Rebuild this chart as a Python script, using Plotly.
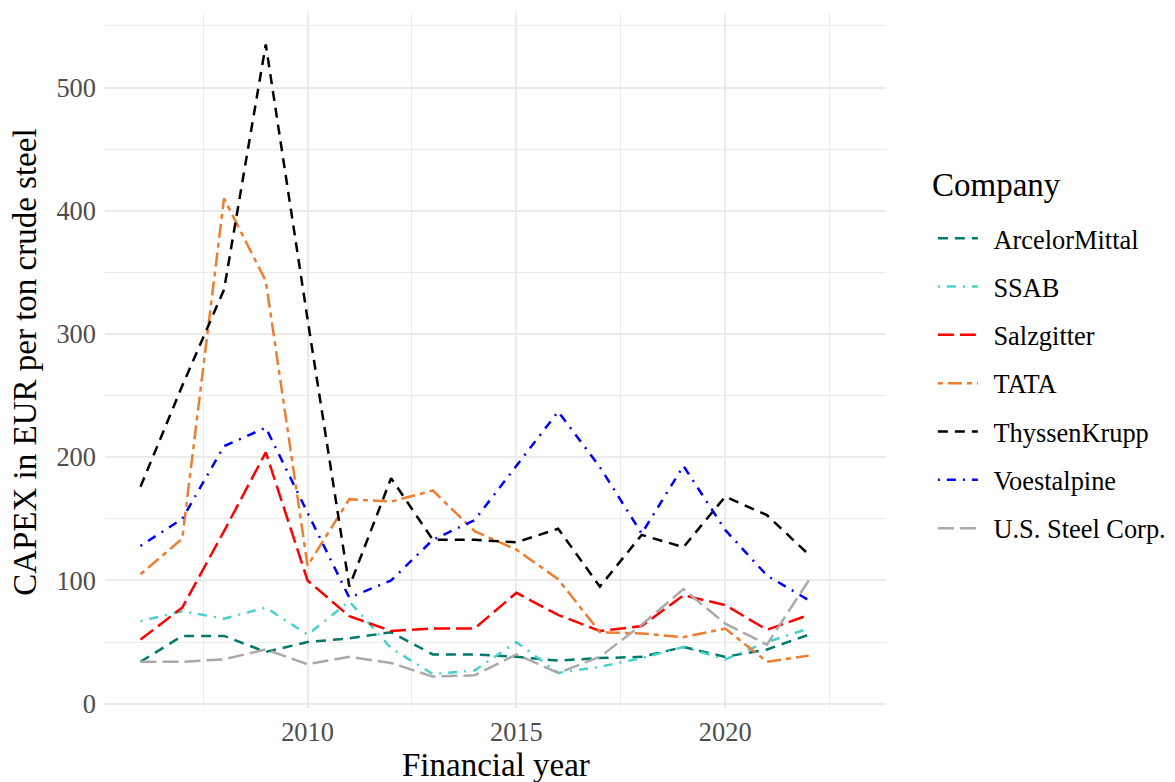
import plotly.graph_objects as go

years = list(range(2006, 2023))
companies = ["ArcelorMittal", "SSAB", "Salzgitter", "TATA", "ThyssenKrupp", "Voestalpine", "U.S. Steel Corp."]
arcelormittal = [34, 55, 55, 42, 50, 53, 58, 40, 40, 38, 35, 37, 38, 46, 38, 44, 56]
ssab = [67, 75, 69, 78, 56, 83, 45, 24, 27, 50, 25, 30, 37, 46, 36, 50, 61]
salzgitter = [52, 78, 140, 204, 100, 71, 59, 61, 61, 90, 72, 59, 63, 88, 80, 60, 72]
tata = [105, 134, 410, 343, 112, 166, 164, 173, 140, 125, 101, 58, 57, 54, 61, 34, 39]
thyssenkrupp = [176, 258, 336, 535, 312, 95, 183, 133, 133, 131, 142, 95, 137, 127, 168, 153, 121]
voestalpine = [128, 150, 209, 224, 155, 86, 100, 133, 149, 193, 237, 192, 138, 193, 141, 104, 84]
ussteel = [34, 34, 36, 44, 32, 38, 33, 22, 23, 40, 25, 38, 64, 93, 65, 48, 100]

series = [arcelormittal, ssab, salzgitter, tata, thyssenkrupp, voestalpine, ussteel]
colors = ["#00786A", "#48D1CC", "#FF0000", "#ED7D31", "#000000", "#0000FF", "#A9A9A9"]
dashes = ["10px,7px", "2px,7px,9px,7px", "16px,6px", "5px,5px,14px,5px",
          "10px,7px", "2px,7px,9px,7px", "16px,6px"]

FONT = "Liberation Serif"
PAD = "\u2009\u2009"

fig = go.Figure()
for name, vals, col, dash in zip(companies, series, colors, dashes):
    fig.add_trace(go.Scatter(
        x=years, y=vals, mode="lines", name=PAD + name, legendgroup=name,
        line=dict(color=col, width=2.5, dash=dash),
    ))

grid = "#EBEBEB"
fig.update_layout(
    width=1175, height=782,
    margin=dict(l=105, r=289, t=13, b=74, autoexpand=False),
    paper_bgcolor="white", plot_bgcolor="white",
    font=dict(family=FONT, color="black"),
    showlegend=True,
    legend=dict(
        font=dict(size=26.4, family=FONT, color="black"),
        x=1.060, xanchor="left", y=0.71, yanchor="top",
        tracegroupgap=11, itemwidth=40,
        bgcolor="rgba(0,0,0,0)",
    ),
    xaxis=dict(
        range=[2005.15, 2023.85], tickvals=[2010, 2015, 2020], ticktext=["2010", "2015", "2020"],
        showgrid=True, gridcolor=grid, gridwidth=2, zeroline=False, showline=False, ticks="",
        tickfont=dict(size=26.4, color="#4D4D4D", family=FONT),
        ticklabelstandoff=6,
        minor=dict(tickvals=[2007.5, 2012.5, 2017.5, 2022.5], showgrid=True, gridcolor=grid, gridwidth=1.2),
    ),
    yaxis=dict(
        range=[-3.5, 560.5], tickvals=[0, 100, 200, 300, 400, 500],
        showgrid=True, gridcolor=grid, gridwidth=2, zeroline=False, showline=False, ticks="",
        tickfont=dict(size=26.4, color="#4D4D4D", family=FONT),
        ticklabelstandoff=8,
        minor=dict(tickvals=[50, 150, 250, 350, 450, 550], showgrid=True, gridcolor=grid, gridwidth=1.2),
    ),
    annotations=[
        dict(text="Financial year", xref="paper", yref="paper", x=0.5, y=-0.082,
             xanchor="center", yanchor="middle", showarrow=False,
             font=dict(size=33, family=FONT, color="black")),
        dict(text="CAPEX in EUR per ton crude steel", xref="paper", yref="paper",
             x=-0.1025, y=0.498, xanchor="center", yanchor="middle", textangle=-90,
             showarrow=False, font=dict(size=33, family=FONT, color="black")),
        dict(text="Company", xref="paper", yref="paper", x=1.056, y=0.753,
             xanchor="left", yanchor="middle", showarrow=False,
             font=dict(size=33, family=FONT, color="black")),
    ],
)

fig.write_html("out.html", config={"displayModeBar": False},
               post_script="document.body.style.margin='0';")
